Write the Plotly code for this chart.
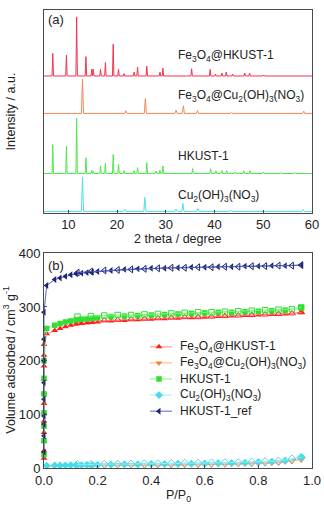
import plotly.graph_objects as go

# ---------------- Panel (a): XRD data (peak positions in 2theta, heights) ----------------
xrd_names = ["Fe<sub>3</sub>O<sub>4</sub>@HKUST-1",
             "Fe<sub>3</sub>O<sub>4</sub>@Cu<sub>2</sub>(OH)<sub>3</sub>(NO<sub>3</sub>)",
             "HKUST-1",
             "Cu<sub>2</sub>(OH)<sub>3</sub>(NO<sub>3</sub>)"]
xrd_offsets = [139, 101, 40, 1.5]

fe_hk_pos = [6.8, 9.6, 11.7, 13.6, 14.8, 15.1, 16.6, 17.6, 19.2, 20.3, 21.4, 23.5, 24.2, 26.1,
             28.8, 29.4, 35.3, 39.1, 40.2, 41.5, 42.4, 43.7, 46.2, 47.2, 50.1]
fe_hk_h = [23, 21, 60, 19.7, 7, 7, 7, 13.7, 32.3, 6.7, 2.3, 4, 9, 10,
           4, 8, 7.3, 6.7, 2, 3, 4, 2, 3, 3, 1]

fe_cu_pos = [12.9, 21.8, 25.8, 32.1, 33.6, 36.5, 43.5, 58.3]
fe_cu_h = [35, 2.7, 15, 3.3, 7.7, 3, 1, 2.3]

hk_pos = [6.8, 9.6, 11.7, 13.6, 14.8, 15.1, 16.6, 17.6, 19.2, 20.3, 21.4, 23.5, 24.2, 26.1,
          28.0, 28.8, 29.4, 35.5, 39.2, 40.3, 41.5, 42.5, 44.2, 46.0, 47.3, 50.0, 53.5, 56.5]
hk_h = [29.3, 27.6, 56, 16, 3.3, 2, 7.7, 10.3, 19.3, 9.3, 3, 3, 6, 11,
        2.5, 3.5, 7.7, 5, 5, 2.7, 3, 3, 1.5, 3, 3, 1.5, 1, 1]

cu_pos = [12.9, 21.6, 25.7, 32.1, 33.5, 36.6, 43.4, 58.2]
cu_h = [35, 2, 14.3, 2.5, 8.3, 3, 1, 2]

xrd_colors = ["#f2334f", "#f7875a", "#4ee84e", "#4fe0ee"]

# ---------------- Panel (b): N2 isotherm data ----------------
p_low = [0.0]  # very low relative pressure points (plotted on P/P0 = 0)
p_ads = [0.01, 0.04, 0.06, 0.08, 0.10, 0.12, 0.14, 0.16, 0.18, 0.20, 0.25, 0.30, 0.35,
         0.40, 0.45, 0.50, 0.55, 0.60, 0.65, 0.70, 0.75, 0.80, 0.85, 0.90, 0.96]
p_des = [0.925, 0.875, 0.825, 0.775, 0.725, 0.675, 0.625, 0.575, 0.525, 0.475, 0.425,
         0.375, 0.325, 0.275, 0.225, 0.175, 0.125]

fe_hk_low = [18, 32, 50, 66, 87, 103, 120, 140, 165, 190, 210, 230]
fe_hk_ads = [250, 256, 260, 263, 266, 268, 269, 270, 271, 272, 274, 275, 276, 277, 278, 279,
             280, 281, 282, 283, 284, 285, 286, 287, 290]
fe_hk_des = [288, 287, 286, 285, 284, 283, 282, 281, 281, 280, 279, 278, 277, 276, 275, 274, 273]

fe_cu_low = []
fe_cu_ads = [3, 3, 3, 3.5, 3.5, 4, 4, 4, 4, 4.5, 4.5, 5, 5, 5, 5.5, 5.5, 6, 6, 6.5, 7, 7.5,
             8, 9, 11, 16]
fe_cu_des = [13, 10, 9, 8, 7.5, 7, 6.5, 6, 6, 5.5, 5.5, 5, 5, 5, 4.5, 4.5, 4]

hk_low = [25, 51, 78, 103, 138, 167, 200]
hk_ads = [260, 266, 269, 272, 274, 276, 277, 278, 279, 280, 282, 283, 284, 285, 286, 287,
          288, 289, 290, 290, 291, 292, 293, 294, 299]
hk_des = [296, 295, 294, 293, 292, 291, 290, 290, 289, 288, 287, 286, 285, 285, 284, 283, 282]

cu_low = []
cu_ads = [4.5, 5, 5, 5, 5.5, 5.5, 5.5, 6, 6, 6, 6.5, 7, 7, 7.5, 7.5, 8, 8, 8.5, 9, 9.5, 10,
          11, 12, 14, 20]
cu_des = [17, 13, 12, 11, 10, 10, 9.5, 9, 9, 8.5, 8, 8, 7.5, 7.5, 7, 7, 6.5]

ref_low = [30, 60, 82, 97, 128, 159, 200, 240, 290]
ref_ads = [340, 351, 354, 357, 360, 362, 363, 364, 365, 366, 368, 370, 371, 372, 372, 373,
           374, 374, 375, 375, 376, 376, 377, 377, 378]
ref_des = [377, 377, 376, 376, 375, 375, 374, 374, 373, 373, 372, 371, 370, 369, 368, 366, 364]

iso_names = ["Fe<sub>3</sub>O<sub>4</sub>@HKUST-1",
             "Fe<sub>3</sub>O<sub>4</sub>@Cu<sub>2</sub>(OH)<sub>3</sub>(NO<sub>3</sub>)",
             "HKUST-1",
             "Cu<sub>2</sub>(OH)<sub>3</sub>(NO<sub>3</sub>)",
             "HKUST-1_ref"]
iso_low = [fe_hk_low, fe_cu_low, hk_low, cu_low, ref_low]
iso_ads = [fe_hk_ads, fe_cu_ads, hk_ads, cu_ads, ref_ads]
iso_des = [fe_hk_des, fe_cu_des, hk_des, cu_des, ref_des]
iso_marker_colors = ["#ff1f1f", "#ff7a35", "#2fe02f", "#45dcec", "#1c2378"]
iso_line_colors = ["#ff8a8a", "#ffb08a", "#8af08a", "#9af0f6", "#5866b8"]
iso_symbols = ["triangle-up", "triangle-down", "square", "diamond", "triangle-left"]

# ---------------- Geometry (pixel layout of the 324x506 picture) ----------------
W, H = 324, 506
L, R, T, B = 44, 12, 3, 38
PW, PH = W - L - R, H - T - B
A_TOP, A_BOT = 3, 209
B_TOP, B_BOT = 250, 468
LEG_ROWS = [345, 361.3, 377.6, 394, 410.3]   # legend row centres (px)
LEG_X0, LEG_X1, LEG_TX = 150, 172, 178       # legend key line span and text start (px)


def py(pix):
    return (H - B - pix) / PH


def px(pix):
    return (pix - L) / PW


FONT = "Liberation Sans, Arial, sans-serif"
AXC = "#4a4a4a"

fig = go.Figure()


def pattern(pos, hts, base, w=0.15):
    xs, ys = [5.0], [base]
    for p, h in sorted(zip(pos, hts)):
        xs += [p - w, p, p + w]
        ys += [base, base + h, base]
    xs.append(60.0)
    ys.append(base)
    return xs, ys


xrd_sets = [(fe_hk_pos, fe_hk_h, 0.15), (fe_cu_pos, fe_cu_h, 0.22),
            (hk_pos, hk_h, 0.15), (cu_pos, cu_h, 0.22)]
for (pos, hts, w), off, col, nm in zip(xrd_sets, xrd_offsets, xrd_colors, xrd_names):
    xs, ys = pattern(pos, hts, off, w)
    fig.add_trace(go.Scatter(x=xs, y=ys, mode="lines", line=dict(color=col, width=1),
                             xaxis="x2", yaxis="y2", showlegend=False, hoverinfo="skip"))

# isotherms
for nm, lo, ad, de, mc, lc, sym in zip(iso_names, iso_low, iso_ads, iso_des,
                                       iso_marker_colors, iso_line_colors, iso_symbols):
    xa = p_low * len(lo) + p_ads
    ya = lo + ad
    msize = 6 if sym != "square" else 5.5
    fig.add_trace(go.Scatter(x=xa, y=ya, mode="lines+markers", name=nm,
                             line=dict(color=lc, width=1),
                             marker=dict(symbol=sym, size=msize, color=mc, line=dict(width=0)),
                             cliponaxis=False, xaxis="x", yaxis="y", showlegend=False))
    fig.add_trace(go.Scatter(x=[p_ads[-1]] + p_des, y=[ad[-1]] + de, mode="lines+markers",
                             line=dict(color=lc, width=1),
                             marker=dict(symbol=sym + "-open", size=msize, color=mc,
                                         line=dict(width=1, color=mc)),
                             cliponaxis=False, showlegend=False, xaxis="x", yaxis="y"))

# legend keys drawn on a hidden pixel-space overlay axis (x3/y3)
ann = []
for nm, row, mc, lc, sym in zip(iso_names, LEG_ROWS, iso_marker_colors, iso_line_colors,
                                iso_symbols):
    fig.add_trace(go.Scatter(x=[LEG_X0, LEG_X1], y=[row, row], mode="lines",
                             line=dict(color=lc, width=1), xaxis="x3", yaxis="y3",
                             showlegend=False, hoverinfo="skip"))
    fig.add_trace(go.Scatter(x=[(LEG_X0 + LEG_X1) / 2 - 2], y=[row], mode="markers",
                             marker=dict(symbol=sym, size=6 if sym != "square" else 5.5,
                                         color=mc, line=dict(width=0)),
                             xaxis="x3", yaxis="y3", showlegend=False, hoverinfo="skip",
                             cliponaxis=False))
    ann.append(dict(text=nm, x=px(LEG_TX), y=py(row), xref="paper", yref="paper",
                    xanchor="left", yanchor="middle", showarrow=False,
                    font=dict(family=FONT, size=12, color="#222")))

axis_common = dict(showline=True, linecolor=AXC, linewidth=1, mirror=True,
                   showgrid=False, zeroline=False, ticks="inside", ticklen=3,
                   tickcolor=AXC, tickfont=dict(family=FONT, size=13, color="#222"))

fig.update_layout(
    width=W, height=H,
    margin=dict(l=L, r=R, t=T, b=B),
    paper_bgcolor="white", plot_bgcolor="white",
    font=dict(family=FONT, size=12, color="#222"),
    xaxis=dict(domain=[0, 1], range=[0, 1.0], tickvals=[0, 0.2, 0.4, 0.6, 0.8, 1.0],
               ticktext=["0.0", "0.2", "0.4", "0.6", "0.8", "1.0"], anchor="y", **axis_common),
    yaxis=dict(domain=[0, py(B_TOP)], range=[0, 400], tickvals=[0, 100, 200, 300, 400],
               anchor="x", **axis_common),
    xaxis2=dict(domain=[0, 1], range=[5, 60], tickvals=[10, 20, 30, 40, 50, 60],
                anchor="y2", **axis_common),
    yaxis2=dict(domain=[py(A_BOT), 1], range=[0, A_BOT - A_TOP], anchor="x2",
                showticklabels=False, ticks="", showline=True, linecolor=AXC, linewidth=1,
                mirror=True, showgrid=False, zeroline=False),
    xaxis3=dict(overlaying="x", range=[L, W - R], visible=False, anchor="y3"),
    yaxis3=dict(overlaying="y", range=[B_BOT, B_TOP], visible=False, anchor="x3"),
    showlegend=False,
)

# XRD labels
for nm, ypix in zip(xrd_names, [50, 90, 151.5, 191.5]):
    ann.append(dict(text=nm, x=px(176), y=py(ypix), xref="paper", yref="paper",
                    xanchor="left", yanchor="middle", showarrow=False,
                    font=dict(family=FONT, size=12, color="#222")))
ann += [
    dict(text="(a)", x=px(46), y=py(13), xref="paper", yref="paper", xanchor="left",
         yanchor="middle", showarrow=False, font=dict(family=FONT, size=13, color="#222")),
    dict(text="(b)", x=px(46), y=py(262), xref="paper", yref="paper", xanchor="left",
         yanchor="middle", showarrow=False, font=dict(family=FONT, size=13, color="#222")),
    dict(text="2 theta / degree", x=px(178), y=py(236), xref="paper", yref="paper",
         xanchor="center", yanchor="middle", showarrow=False,
         font=dict(family=FONT, size=12.5, color="#222")),
    dict(text="P/P<sub>0</sub>", x=px(178), y=py(496), xref="paper", yref="paper",
         xanchor="center", yanchor="middle", showarrow=False,
         font=dict(family=FONT, size=12.5, color="#222")),
    dict(text="Intensity / a.u.", x=px(11), y=py(106), xref="paper", yref="paper",
         xanchor="center", yanchor="middle", textangle=-90, showarrow=False,
         font=dict(family=FONT, size=12.5, color="#222")),
    dict(text="Volume adsorbed / cm<sup>3</sup> g<sup>-1</sup>", x=px(9), y=py(358),
         xref="paper", yref="paper", xanchor="center", yanchor="middle", textangle=-90,
         showarrow=False, font=dict(family=FONT, size=12.5, color="#222")),
]
fig.update_layout(annotations=ann)

fig.write_html("out.html", config={"displayModeBar": False},
               post_script="document.body.style.margin='0px';")
